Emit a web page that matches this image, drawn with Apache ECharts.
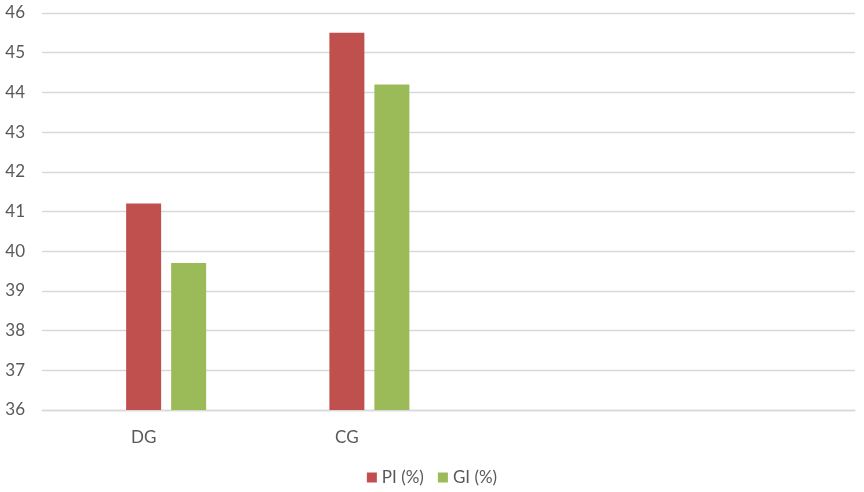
<!DOCTYPE html>
<html>
<head>
<meta charset="utf-8">
<script src="https://cdn.jsdelivr.net/npm/echarts@6/dist/echarts.min.js"></script>
<style>html,body{margin:0;padding:0;background:#fff;}#c{width:864px;height:492px;}</style>
</head>
<body>
<div id="c"></div>
<script>
var categories = ['DG', 'CG', '', ''];
var blankValues = [null, null, null, null];
var piValues = [41.2, 45.5, null, null];
var giValues = [39.7, 44.2, null, null];
var yTicks = { min: 36, max: 46, interval: 1 };

var font = 'Lato, "Open Sans", sans-serif';
var chart = echarts.init(document.getElementById('c'));
chart.setOption({
  animation: false,
  backgroundColor: '#ffffff',
  grid: { left: 42, right: 9, top: 13, bottom: 82, containLabel: false },
  legend: {
    data: ['PI (%)', 'GI (%)'],
    bottom: 1,
    left: 'center',
    itemWidth: 10,
    itemHeight: 10,
    itemGap: 14,
    itemTextGap: 6,
    icon: 'rect',
    textStyle: { fontFamily: font, fontSize: 17, color: '#595959' }
  },
  xAxis: {
    type: 'category',
    data: categories,
    axisLine: { lineStyle: { color: '#D9D9D9', width: 1.3 } },
    axisTick: { show: false },
    axisLabel: { fontFamily: font, fontSize: 17, color: '#595959', margin: 19 }
  },
  yAxis: {
    type: 'value',
    min: yTicks.min,
    max: yTicks.max,
    interval: yTicks.interval,
    axisLine: { show: false },
    axisTick: { show: false },
    splitLine: { lineStyle: { color: '#D9D9D9', width: 1.3 } },
    axisLabel: { fontFamily: font, fontSize: 17, color: '#595959', margin: 17 }
  },
  series: [
    { name: 'blank', type: 'bar', data: blankValues, barWidth: 35, barGap: '28.6%' },
    { name: 'PI (%)', type: 'bar', data: piValues, barWidth: 35, barGap: '28.6%', itemStyle: { color: '#C0504D' } },
    { name: 'GI (%)', type: 'bar', data: giValues, barWidth: 35, barGap: '28.6%', itemStyle: { color: '#9BBB59' } }
  ],
  color: ['#4F81BD', '#C0504D', '#9BBB59']
});
</script>
</body>
</html>
